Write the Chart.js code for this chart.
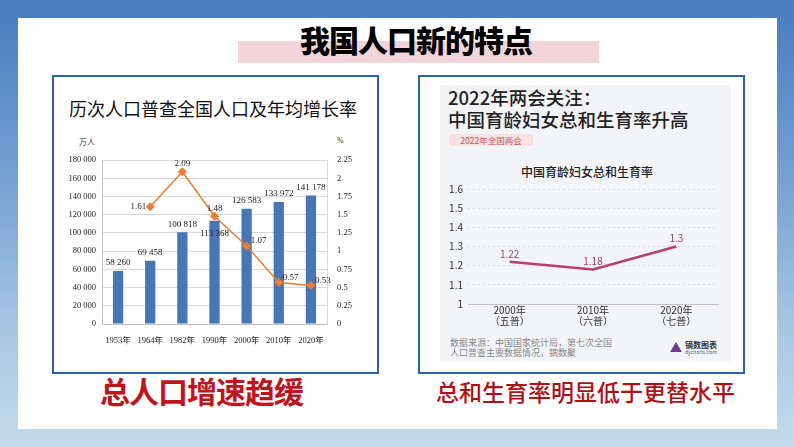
<!DOCTYPE html>
<html>
<head>
<meta charset="utf-8">
<script src="https://cdn.jsdelivr.net/npm/chart.js@4.4.0/dist/chart.umd.min.js"></script>
<style>
  body { margin: 0; width: 794px; height: 447px; overflow: hidden; position: relative;
    background: linear-gradient(180deg, #477cbf 0%, #6f9bd0 35%, #a9c8e4 75%, #c4dbec 100%);
    font-family: "Noto Sans CJK SC", sans-serif; }
  .abs { position: absolute; }
  .panel { left: 18px; top: 18px; width: 759px; height: 411px; background: #fff; }
  .box { top: 75px; height: 295px; border: 2px solid #2a64a8; background: #fff; }
  .txt { white-space: nowrap; }
</style>
</head>
<body>
<div class="abs panel"></div>
<div class="abs" style="left:238px;top:41px;width:361px;height:22px;background:#f3d5d9"></div>
<div class="abs txt" style="left:296px;top:20px;width:240px;text-align:center;font-size:30px;font-weight:900;line-height:38px;color:#000;letter-spacing:-1px">我国人口新的特点</div>

<div class="abs box" style="left:52px;width:323px"></div>
<div class="abs box" style="left:418px;width:323px"></div>

<!-- left -->
<div class="abs txt" style="left:69px;top:96px;font-size:18px;line-height:24px;color:#111">历次人口普查全国人口及年均增长率</div>
<div class="abs txt" style="left:79px;top:136px;font-size:8px;color:#333">万人</div>
<div class="abs txt" style="left:337px;top:136px;font-size:8px;color:#333;font-family:'Liberation Serif'">%</div>
<canvas id="graficoPoblacion" class="abs" style="left:55px;top:145px" width="320" height="201"></canvas>

<!-- right -->
<div class="abs" style="left:440px;top:85px;width:291px;height:276px;background:#f3f4f8"></div>
<div class="abs txt" style="left:448px;top:86px;font-size:18.5px;line-height:22px;font-weight:500;color:#222">2022年两会关注：<br>中国育龄妇女总和生育率升高</div>
<div class="abs txt" style="left:449px;top:134px;width:84px;height:12px;background:#f6e2e2;border-radius:3px;font-size:8.5px;line-height:12px;text-align:center;color:#c05a5a">2022年全国两会</div>
<div class="abs txt" style="left:440px;top:163px;width:294px;text-align:center;font-size:12px;font-weight:500;color:#222">中国育龄妇女总和生育率</div>
<canvas id="graficoFecundidad" class="abs" style="left:440px;top:178px" width="290" height="150"></canvas>
<div class="abs txt" style="left:450px;top:338px;font-size:9px;line-height:10px;color:#888">数据来源：中国国家统计局，第七次全国<br>人口普查主要数据情况，镝数聚</div>
<div class="abs" style="left:670px;top:342px;width:0;height:0;border-left:6px solid transparent;border-right:6px solid transparent;border-bottom:10px solid #6b3a8c"></div>
<div class="abs txt" style="left:685px;top:340px;font-size:8px;line-height:9px;font-weight:700;color:#333">镝数图表</div>
<div class="abs txt" style="left:685px;top:349px;font-size:5px;line-height:6px;color:#555">dycharts.com</div>

<div class="abs txt" style="left:100px;top:372px;font-size:30px;font-weight:700;line-height:36px;color:#c0141c;letter-spacing:-1px">总人口增速趋缓</div>
<div class="abs txt" style="left:436px;top:377px;font-size:23px;line-height:28px;color:#b01015;font-weight:500">总和生育率明显低于更替水平</div>

<script>
const anosCenso = ["1953年", "1964年", "1982年", "1990年", "2000年", "2010年", "2020年"];
const poblacion = [58260, 69458, 100818, 113368, 126583, 133972, 141178];
const crecimiento = [null, 1.61, 2.09, 1.48, 1.07, 0.57, 0.53];
const ticksPoblacion = ["0", "20 000", "40 000", "60 000", "80 000", "100 000", "120 000", "140 000", "160 000", "180 000"];
const ticksCrecimiento = ["0", "0.25", "0.5", "0.75", "1", "1.25", "1.5", "1.75", "2", "2.25"];

const anosFecundidad = [["2000年", "（五普）"], ["2010年", "（六普）"], ["2020年", "（七普）"]];
const fecundidad = [1.22, 1.18, 1.3];
const ticksFecundidad = ["1", "1.1", "1.2", "1.3", "1.4", "1.5", "1.6"];

const miles = (v) => String(v).replace(/\B(?=(\d{3})+(?!\d))/g, " ");

// etiquetas de valores sobre barras y puntos
const etiquetas = {
  id: "etiquetas",
  afterDatasetsDraw(chart) {
    const ctx = chart.ctx;
    chart.data.datasets.forEach((ds, di) => {
      const cfg = ds.etiqueta;
      if (!cfg) return;
      chart.getDatasetMeta(di).data.forEach((el, i) => {
        const v = ds.data[i];
        if (v == null) return;
        const lugar = cfg.lugar ? cfg.lugar[i] : "top";
        let x = el.x, y = el.y - 8, align = "center";
        if (lugar === "inside") y = el.y + 13;
        if (lugar === "left") { x = el.x - 4; y = el.y; align = "right"; }
        if (lugar === "right") { x = el.x + 4; y = el.y - 5; align = "left"; }
        ctx.save();
        ctx.font = cfg.font;
        ctx.fillStyle = cfg.color;
        ctx.textAlign = align;
        ctx.textBaseline = "middle";
        ctx.fillText(cfg.fmt(v), x, y);
        ctx.restore();
      });
    });
  },
};

const serif = { family: "'Liberation Serif', 'Noto Sans CJK SC'", size: 8.5 };

new Chart(document.getElementById("graficoPoblacion"), {
  data: {
    labels: anosCenso,
    datasets: [
      {
        type: "line",
        data: crecimiento,
        yAxisID: "y1",
        borderColor: "#ed7d31",
        backgroundColor: "#ed7d31",
        borderWidth: 1.5,
        pointStyle: "rectRot",
        pointRadius: 3.5,
        tension: 0,
        etiqueta: {
          font: "9px 'Liberation Serif'",
          color: "#222",
          fmt: (v) => String(v),
          lugar: [null, "left", "top", "top", "right", "right", "right"],
        },
      },
      {
        type: "bar",
        data: poblacion,
        yAxisID: "y",
        backgroundColor: "#4676b4",
        barPercentage: 0.32,
        categoryPercentage: 1,
        etiqueta: {
          font: "9px 'Liberation Serif'",
          color: "#222",
          fmt: miles,
          lugar: ["top", "top", "top", "inside", "top", "top", "top"],
        },
      },
    ],
  },
  options: {
    responsive: false,
    animation: false,
    layout: { padding: { top: 12, bottom: 0 } },
    plugins: { legend: { display: false }, tooltip: { enabled: false } },
    scales: {
      x: {
        grid: { display: false },
        border: { color: "#bfbfbf" },
        ticks: { font: serif, color: "#222", padding: 4, maxRotation: 0 },
        afterFit: (s) => { s.height = 22; },
      },
      y: {
        min: 0,
        max: 180000,
        ticks: { stepSize: 20000, font: serif, color: "#222", padding: 6,
          callback: (v, i) => ticksPoblacion[i] },
        grid: { color: "#d9d9d9", drawTicks: false },
        border: { color: "#bfbfbf" },
        afterFit: (s) => { s.width = 47; },
      },
      y1: {
        position: "right",
        min: 0,
        max: 2.25,
        ticks: { stepSize: 0.25, font: serif, color: "#222", padding: 10,
          callback: (v, i) => ticksCrecimiento[i] },
        grid: { drawOnChartArea: false, drawTicks: false },
        border: { color: "#d9d9d9" },
        afterFit: (s) => { s.width = 48; },
      },
    },
  },
  plugins: [etiquetas],
});

new Chart(document.getElementById("graficoFecundidad"), {
  type: "line",
  data: {
    labels: anosFecundidad,
    datasets: [
      {
        data: fecundidad,
        borderColor: "#b4426a",
        borderWidth: 2.5,
        pointRadius: 0,
        tension: 0,
        etiqueta: {
          font: "10px 'Noto Sans CJK SC'",
          color: "#8c4668",
          fmt: (v) => String(v),
        },
      },
    ],
  },
  options: {
    responsive: false,
    animation: false,
    layout: { padding: { top: 9, right: 12 } },
    plugins: { legend: { display: false }, tooltip: { enabled: false } },
    scales: {
      x: {
        offset: true,
        grid: { display: false, drawTicks: false },
        border: { color: "#c4c4c4" },
        ticks: { font: { family: "'Noto Sans CJK SC'", size: 10, lineHeight: 1.05 }, color: "#333", padding: 1, maxRotation: 0 },
        afterFit: (s) => { s.height = 24; },
      },
      y: {
        min: 1,
        max: 1.6,
        ticks: { stepSize: 0.1, font: { family: "'Noto Sans CJK SC'", size: 10 }, color: "#333", padding: 5,
          callback: (v, i) => ticksFecundidad[i] },
        grid: { color: "#dcdcdc", drawTicks: false },
        border: { display: false, dash: [2, 3] },
        afterFit: (s) => { s.width = 28; },
      },
    },
  },
  plugins: [etiquetas],
});
</script>
</body>
</html>
